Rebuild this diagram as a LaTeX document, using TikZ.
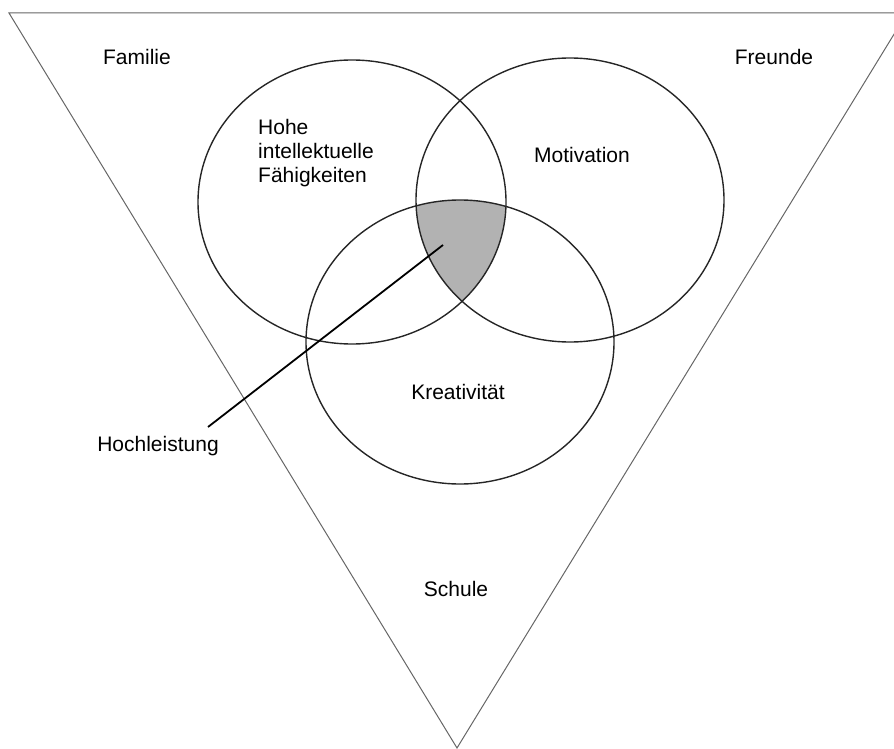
\documentclass[tikz,border=0pt]{standalone}
\usepackage{fontspec}
\setmainfont{Liberation Sans}
\usetikzlibrary{positioning, calc}

\begin{document}
\begin{tikzpicture}[x=1pt, y=-1pt, font=\fontsize{21}{24}\selectfont]

\pgfmathsetmacro{\rx}{154}
\pgfmathsetmacro{\ry}{142}

\useasboundingbox (0,0) rectangle (894,749);
\clip (0,0) rectangle (894,749);

\coordinate (TL) at (9, 13);
\coordinate (TR) at (907, 13);
\coordinate (B) at (457, 748);
\coordinate (Ci) at (352, 202);
\coordinate (Cm) at (570, 200);
\coordinate (Ck) at (460, 342);
\coordinate (tip) at (443, 245);
\coordinate (tail) at (208, 427);

% umgebung
\draw[black!60, line width=1pt] (TL) -- (TR) -- (B) -- cycle;

% schnittmenge
\begin{scope}
  \clip (Ci) ellipse ({\rx} and {\ry});
  \clip (Cm) ellipse ({\rx} and {\ry});
  \fill[black!30] (Ck) ellipse ({\rx} and {\ry});
\end{scope}

\draw[black!85, line width=1.4pt] (Ci) ellipse ({\rx} and {\ry});
\draw[black!85, line width=1.4pt] (Cm) ellipse ({\rx} and {\ry});
\draw[black!85, line width=1.4pt] (Ck) ellipse ({\rx} and {\ry});

\node (familie) at (137, 57) {Familie};
\node (freunde) at (774, 57) {Freunde};
\node[align=left, anchor=north west, inner sep=0pt] (intell) at (258, 119) {Hohe\\intellektuelle\\Fähigkeiten};
\node (motiv) at (582, 155) {Motivation};
\node (kreat) at (458, 392) {Kreativität};
\node (schule) at (456, 589) {Schule};
\node (hoch) at (158, 446) {Hochleistung};

\draw[black, line width=1.8pt] (tip) -- (tail);

\end{tikzpicture}
\end{document}
